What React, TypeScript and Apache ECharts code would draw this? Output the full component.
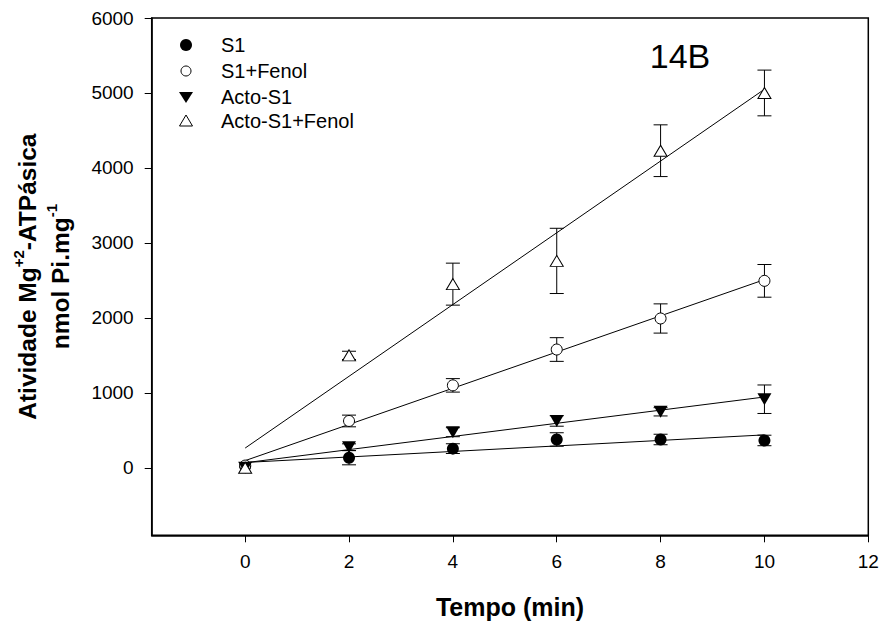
import React, { useEffect, useRef } from "react";
import * as echarts from "echarts";

// Time points (min)
const times = [0, 2, 4, 6, 8, 10];

// Series values (nmol Pi.mg-1) and their error bars
const s1 = [20, 135, 256, 378, 378, 365];
const s1Err = [0, 95, 65, 90, 70, 70];
const s1Fenol = [30, 625, 1100, 1578, 1992, 2494];
const s1FenolErr = [0, 78, 90, 158, 195, 218];
const actoS1 = [0, 275, 475, 625, 747, 915];
const actoS1Err = [0, 45, 60, 70, 55, 190];
const actoS1Fenol = [0, 1500, 2450, 2760, 4230, 5000];
const actoS1FenolErr = [0, 55, 280, 435, 345, 305];

const seriesNames = ["S1", "S1+Fenol", "Acto-S1", "Acto-S1+Fenol"];

const xTicks = [0, 2, 4, 6, 8, 10, 12];
const yTicks = [0, 1000, 2000, 3000, 4000, 5000, 6000];

const FONT = "'Liberation Sans', Arial, Helvetica, sans-serif";

function linearFit(xs: number[], ys: number[]) {
  const n = xs.length;
  const mx = xs.reduce((a, b) => a + b, 0) / n;
  const my = ys.reduce((a, b) => a + b, 0) / n;
  let sxy = 0;
  let sxx = 0;
  for (let i = 0; i < n; i++) {
    sxy += (xs[i] - mx) * (ys[i] - my);
    sxx += (xs[i] - mx) * (xs[i] - mx);
  }
  const slope = sxy / sxx;
  return { slope, intercept: my - slope * mx };
}

type Def = {
  name: string;
  values: number[];
  errors: number[];
  symbol: string;
  rotate: number;
  size: number | number[];
  filled: boolean;
};

const defs: Def[] = [
  { name: seriesNames[0], values: s1, errors: s1Err, symbol: "circle", rotate: 0, size: 12, filled: true },
  { name: seriesNames[1], values: s1Fenol, errors: s1FenolErr, symbol: "circle", rotate: 0, size: 11, filled: false },
  { name: seriesNames[2], values: actoS1, errors: actoS1Err, symbol: "triangle", rotate: 180, size: [14, 12], filled: true },
  { name: seriesNames[3], values: actoS1Fenol, errors: actoS1FenolErr, symbol: "triangle", rotate: 0, size: [13, 11], filled: false },
];

export default function App() {
  const ref = useRef<HTMLDivElement>(null);

  useEffect(() => {
    const chart = echarts.init(ref.current!, null, { renderer: "svg" });

    const series: any[] = [];
    defs.forEach((d) => {
      const f = linearFit(times, d.values);
      const t0 = times[0];
      const t1 = times[times.length - 1];
      series.push({
        type: "line",
        name: d.name + " fit",
        data: [
          [t0, f.intercept + f.slope * t0],
          [t1, f.intercept + f.slope * t1],
        ],
        symbol: "none",
        silent: true,
        z: 2,
        lineStyle: { color: "#000", width: 1 },
      });
      series.push({
        type: "custom",
        name: d.name + " err",
        data: times.map((t, i) => [t, d.values[i], d.errors[i]]),
        encode: { x: 0, y: 1 },
        silent: true,
        z: 3,
        renderItem: (params: any, api: any) => {
          const t = api.value(0);
          const v = api.value(1);
          const e = api.value(2);
          if (!e) return null;
          const hi = api.coord([t, v + e]);
          const lo = api.coord([t, v - e]);
          const w = 7;
          const style = { stroke: "#000", lineWidth: 1 };
          return {
            type: "group",
            children: [
              { type: "line", shape: { x1: hi[0], y1: hi[1], x2: lo[0], y2: lo[1] }, style },
              { type: "line", shape: { x1: hi[0] - w, y1: hi[1], x2: hi[0] + w, y2: hi[1] }, style },
              { type: "line", shape: { x1: lo[0] - w, y1: lo[1], x2: lo[0] + w, y2: lo[1] }, style },
            ],
          };
        },
      });
      series.push({
        type: "scatter",
        name: d.name,
        data: times.map((t, i) => [t, d.values[i]]),
        symbol: d.symbol,
        symbolRotate: d.rotate,
        symbolSize: d.size,
        z: 5,
        itemStyle: {
          color: d.filled ? "#000" : "#fff",
          borderColor: "#000",
          borderWidth: d.filled ? 0 : 1,
          opacity: 1,
        },
      });
    });

    const legendRows = [45, 71, 97, 121];
    const legendX = 186;
    const legendTextX = 221;
    const legendGraphics: any[] = [
      { type: "circle", shape: { cx: legendX, cy: legendRows[0], r: 6 }, style: { fill: "#000" } },
      { type: "circle", shape: { cx: legendX, cy: legendRows[1], r: 5 }, style: { fill: "#fff", stroke: "#000", lineWidth: 1 } },
      {
        type: "polygon",
        shape: { points: [[legendX - 7, legendRows[2] - 5], [legendX + 7, legendRows[2] - 5], [legendX, legendRows[2] + 6]] },
        style: { fill: "#000" },
      },
      {
        type: "polygon",
        shape: { points: [[legendX - 6.5, legendRows[3] + 5], [legendX + 6.5, legendRows[3] + 5], [legendX, legendRows[3] - 6]] },
        style: { fill: "#fff", stroke: "#000", lineWidth: 1 },
      },
      ...seriesNames.map((n, i) => ({
        type: "text",
        x: legendTextX,
        y: legendRows[i],
        style: {
          text: n,
          fontSize: 20,
          fontFamily: FONT,
          fill: "#000",
          align: "left",
          verticalAlign: "middle",
        },
      })),
      {
        type: "text",
        x: 680,
        y: 56,
        style: {
          text: "14B",
          fontSize: 34,
          fontFamily: FONT,
          fill: "#000",
          align: "center",
          verticalAlign: "middle",
        },
      },
    ];

    const option: any = {
      animation: false,
      backgroundColor: "#fff",
      grid: {
        left: 151.7,
        right: 13.7,
        top: 18,
        bottom: 90.7,
        show: true,
        borderColor: "#000",
        borderWidth: 1.5,
        backgroundColor: "transparent",
      },
      xAxis: {
        type: "value",
        min: -1.8,
        max: 12,
        name: "Tempo (min)",
        nameLocation: "middle",
        nameGap: 59,
        nameTextStyle: { fontSize: 25, fontWeight: "bold", fontFamily: FONT, color: "#000" },
        axisLine: { show: true, onZero: false, lineStyle: { color: "#000", width: 1.5 } },
        axisTick: { show: true, inside: false, length: 7, customValues: xTicks, lineStyle: { color: "#000", width: 1 } },
        axisLabel: {
          show: true,
          customValues: xTicks,
          fontSize: 19,
          fontFamily: FONT,
          color: "#000",
          margin: 17,
          formatter: (v: number) => String(v),
        },
        splitLine: { show: false },
      },
      yAxis: {
        type: "value",
        min: -900,
        max: 6000,
        name: "Atividade Mg{s|+2}-ATPásica\nnmol Pi.mg{s|-1}",
        nameLocation: "middle",
        nameRotate: 90,
        nameGap: 75,
        nameTextStyle: {
          fontSize: 24.5,
          fontWeight: "bold",
          fontFamily: FONT,
          color: "#000",
          lineHeight: 33,
          align: "center",
          rich: {
            s: { fontSize: 15, fontWeight: "bold", fontFamily: FONT, color: "#000", verticalAlign: "top", lineHeight: 20 },
          },
        },
        axisLine: { show: true, onZero: false, lineStyle: { color: "#000", width: 1.5 } },
        axisTick: { show: true, inside: false, length: 7, customValues: yTicks, lineStyle: { color: "#000", width: 1 } },
        axisLabel: {
          show: true,
          customValues: yTicks,
          fontSize: 19,
          fontFamily: FONT,
          color: "#000",
          margin: 18,
          formatter: (v: number) => String(v),
        },
        splitLine: { show: false },
      },
      graphic: legendGraphics,
      series,
    };

    chart.setOption(option);
    return () => chart.dispose();
  }, []);

  return (
    <div
      ref={ref}
      style={{ position: "fixed", left: 0, top: 0, width: 882, height: 626, background: "#fff" }}
    />
  );
}
